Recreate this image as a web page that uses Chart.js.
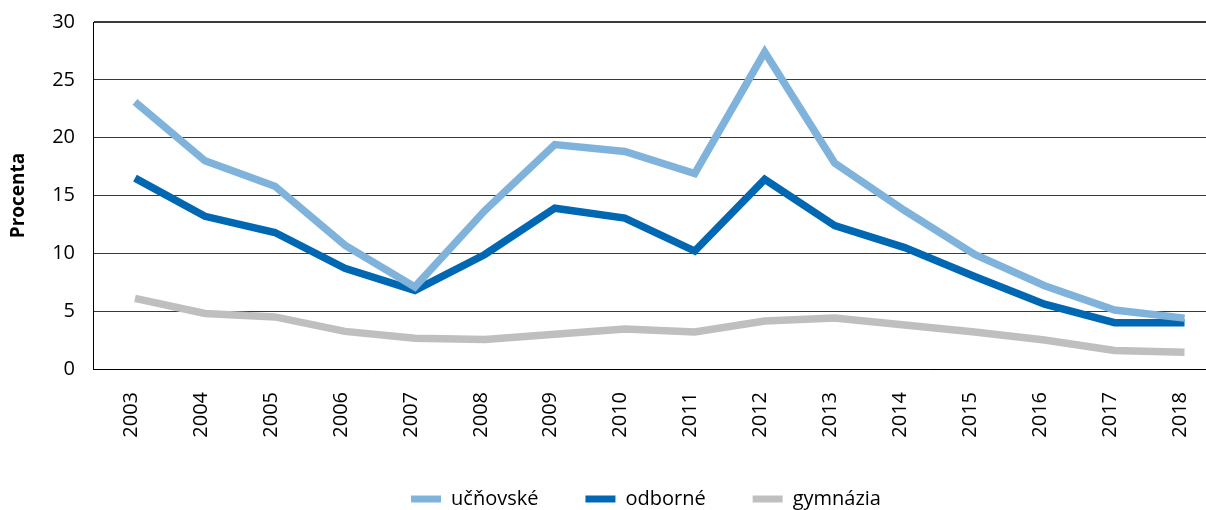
<!DOCTYPE html>
<html>
<head>
<meta charset="utf-8">
<script src="https://cdn.jsdelivr.net/npm/chart.js@4/dist/chart.umd.min.js"></script>
<style>
  html, body { margin: 0; padding: 0; background: #ffffff; overflow: hidden; }
  #c { display: block; }
</style>
</head>
<body>
<canvas id="c" width="1206" height="510"></canvas>
<script>
const years = [2003, 2004, 2005, 2006, 2007, 2008, 2009, 2010, 2011, 2012, 2013, 2014, 2015, 2016, 2017, 2018];
const ucnovske = [23.1, 18.0, 15.8, 10.7, 7.1, 13.7, 19.4, 18.8, 16.9, 27.4, 17.8, 13.7, 9.9, 7.2, 5.1, 4.4];
const odborne  = [16.5, 13.2, 11.8, 8.7, 6.8, 9.9, 13.9, 13.05, 10.2, 16.4, 12.4, 10.5, 8.0, 5.6, 4.0, 4.0];
const gymnazia = [6.1, 4.8, 4.5, 3.25, 2.65, 2.55, 3.0, 3.45, 3.2, 4.15, 4.4, 3.8, 3.2, 2.5, 1.6, 1.45];
const seriesNames = ['učňovské', 'odborné', 'gymnázia'];
const seriesColors = ['#7FB3DB', '#0067B2', '#BFBFBF'];
const yTicks = [0, 5, 10, 15, 20, 25, 30];

const FONT = '"Open Sans", "Liberation Sans", sans-serif';

function pts(vals) { return years.map((y, i) => ({ x: y, y: vals[i] })); }

const datasets = [ucnovske, odborne, gymnazia].map((vals, i) => ({
  label: seriesNames[i],
  data: pts(vals),
  borderColor: seriesColors[i],
  backgroundColor: seriesColors[i],
  borderWidth: 7.5,
  pointRadius: 0,
  pointHoverRadius: 0,
  tension: 0,
  fill: false,
  borderJoinStyle: 'miter',
  borderCapStyle: 'butt'
}));

const legendShift = {
  id: 'legendShift',
  afterLayout(chart) {
    const l = chart.legend;
    if (l) { l.left += 43; l.right += 43; }
  }
};

new Chart(document.getElementById('c'), {
  type: 'line',
  data: { datasets },
  plugins: [legendShift],
  options: {
    responsive: false,
    animation: false,
    events: [],
    layout: { padding: { top: 22, left: 0, right: 0, bottom: -9 } },
    plugins: {
      tooltip: { enabled: false },
      legend: {
        position: 'bottom',
        align: 'center',
        labels: {
          boxWidth: 30,
          boxHeight: 7,
          padding: 47,
          color: '#000',
          font: { family: FONT, size: 20 },
          generateLabels(chart) {
            return chart.data.datasets.map((ds, i) => ({
              text: ds.label,
              fillStyle: ds.borderColor,
              strokeStyle: 'rgba(0,0,0,0)',
              lineWidth: 0,
              hidden: false,
              datasetIndex: i,
              fontColor: '#000'
            }));
          }
        }
      }
    },
    scales: {
      x: {
        type: 'linear',
        position: 'bottom',
        min: 2002.4,
        max: 2018.307,
        afterBuildTicks(scale) { scale.ticks = years.map(v => ({ value: v })); },
        afterFit(scale) { scale.height = 73; scale.paddingLeft = 0; scale.paddingRight = 0; },
        grid: { display: true, drawOnChartArea: false, drawTicks: false, tickLength: 0 },
        border: { display: true, color: '#000', width: 1 },
        ticks: {
          autoSkip: false,
          minRotation: 90,
          maxRotation: 90,
          padding: 23,
          labelOffset: -4,
          color: '#000',
          font: { family: FONT, size: 20 },
          callback: (v) => String(v)
        }
      },
      y: {
        min: 0,
        max: 30,
        afterBuildTicks(scale) { scale.ticks = yTicks.map(v => ({ value: v })); },
        afterFit(scale) { scale.width = 93; scale.paddingTop = 0; scale.paddingBottom = 0; },
        grid: {
          drawTicks: false,
          tickLength: 0,
          color: '#3a3a3a',
          lineWidth: (ctx) => (ctx.tick && ctx.tick.value === 30 ? 2 : 1)
        },
        border: { display: true, color: '#000', width: 1 },
        ticks: {
          padding: 18,
          color: '#000',
          font: { family: FONT, size: 20 },
          callback: (v) => String(v)
        },
        title: {
          display: true,
          text: 'Procenta',
          color: '#000',
          padding: { top: 7, bottom: 0 },
          font: { family: FONT, size: 19, weight: 'bold' }
        }
      }
    }
  }
});
</script>
</body>
</html>
